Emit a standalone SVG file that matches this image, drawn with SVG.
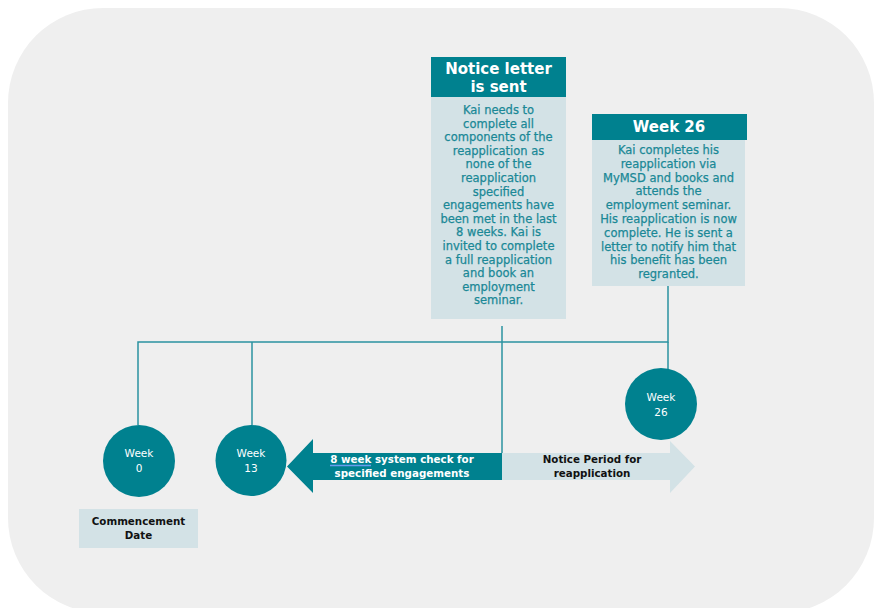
<svg xmlns="http://www.w3.org/2000/svg" width="875" height="608" viewBox="0 0 875 608">
<style>
.bg{fill:#efefef}
.teal{fill:#00818f}
.light{fill:#d3e2e6}
.ln{stroke:#2b93a1;stroke-width:1.5;fill:none}
text{font-family:"DejaVu Sans","Verdana",sans-serif;text-anchor:middle}
.hd{font-size:15px;font-weight:bold;fill:#ffffff}
.body{font-size:11.5px;fill:#1a8896;stroke:#1a8896;stroke-width:0.25}
.circ{font-size:10.5px;fill:#ffffff}
.lbl{font-size:10.3px;font-weight:bold;fill:#111111}
.arw{font-size:10.3px;font-weight:bold;fill:#ffffff}
</style>
<rect width="875" height="608" fill="#ffffff"/>
<rect class="bg" x="8" y="8" width="866" height="605" rx="95" ry="95"/>
<g id="connectors">
<polyline class="ln" points="138,425 138,342 668,342 668,286"/>
<line class="ln" x1="252" y1="342" x2="252" y2="425"/>
<line class="ln" x1="502" y1="326" x2="502" y2="453"/>
<line class="ln" x1="668" y1="342" x2="668" y2="369"/>
</g>
<g id="arrow-notice-period">
<polygon class="light" points="502,453 670,453 670,441 695,466.5 670,493 670,480 502,480"/>
<text class="lbl" x="592" y="463">Notice Period for</text>
<text class="lbl" x="592" y="477">reapplication</text>
</g>
<g id="arrow-8-week">
<polygon class="teal" points="502,453 313,453 313,439 287,466.5 313,493 313,480 502,480"/>
<text class="arw" x="402" y="463">8 week system check for</text>
<text class="arw" x="402" y="477">specified engagements</text>
<line x1="330" y1="465.5" x2="371" y2="465.5" stroke="#6a9cf0" stroke-width="1.4"/>
</g>
<g id="week0">
<circle class="teal" cx="139" cy="461" r="36"/>
<text class="circ" x="139" y="457">Week</text>
<text class="circ" x="139" y="472">0</text>
</g>
<g id="week13">
<circle class="teal" cx="251" cy="460.5" r="35.5"/>
<text class="circ" x="251" y="457">Week</text>
<text class="circ" x="251" y="472">13</text>
</g>
<g id="week26-circle">
<circle class="teal" cx="661" cy="404" r="36"/>
<text class="circ" x="661" y="401">Week</text>
<text class="circ" x="661" y="416">26</text>
</g>
<g id="commencement">
<rect class="light" x="79" y="509" width="119" height="39"/>
<text class="lbl" x="138.5" y="525">Commencement</text>
<text class="lbl" x="138.5" y="539">Date</text>
</g>
<g id="notice-letter">
<rect class="light" x="431" y="97" width="135" height="222"/>
<rect class="teal" x="431" y="57" width="135" height="40"/>
<text class="hd" x="498.5" y="74">Notice letter</text>
<text class="hd" x="498.5" y="92">is sent</text>
<text class="body" x="498.5" y="114">Kai needs to</text>
<text class="body" x="498.5" y="127.6">complete all</text>
<text class="body" x="498.5" y="141.2">components of the</text>
<text class="body" x="498.5" y="154.8">reapplication as</text>
<text class="body" x="498.5" y="168.4">none of the</text>
<text class="body" x="498.5" y="182">reapplication</text>
<text class="body" x="498.5" y="195.6">specified</text>
<text class="body" x="498.5" y="209.2">engagements have</text>
<text class="body" x="498.5" y="222.8">been met in the last</text>
<text class="body" x="498.5" y="236.4">8 weeks. Kai is</text>
<text class="body" x="498.5" y="250">invited to complete</text>
<text class="body" x="498.5" y="263.6">a full reapplication</text>
<text class="body" x="498.5" y="277.2">and book an</text>
<text class="body" x="498.5" y="290.8">employment</text>
<text class="body" x="498.5" y="304.4">seminar.</text>
</g>
<g id="week26-box">
<rect class="light" x="592" y="140" width="153" height="146"/>
<rect class="teal" x="592" y="114" width="155" height="26"/>
<text class="hd" x="669" y="132">Week 26</text>
<text class="body" x="668.5" y="154">Kai completes his</text>
<text class="body" x="668.5" y="167.8">reapplication via</text>
<text class="body" x="668.5" y="181.6">MyMSD and books and</text>
<text class="body" x="668.5" y="195.4">attends the</text>
<text class="body" x="668.5" y="209.2">employment seminar.</text>
<text class="body" x="668.5" y="223">His reapplication is now</text>
<text class="body" x="668.5" y="236.8">complete. He is sent a</text>
<text class="body" x="668.5" y="250.6">letter to notify him that</text>
<text class="body" x="668.5" y="264.4">his benefit has been</text>
<text class="body" x="668.5" y="278.2">regranted.</text>
</g>
</svg>
